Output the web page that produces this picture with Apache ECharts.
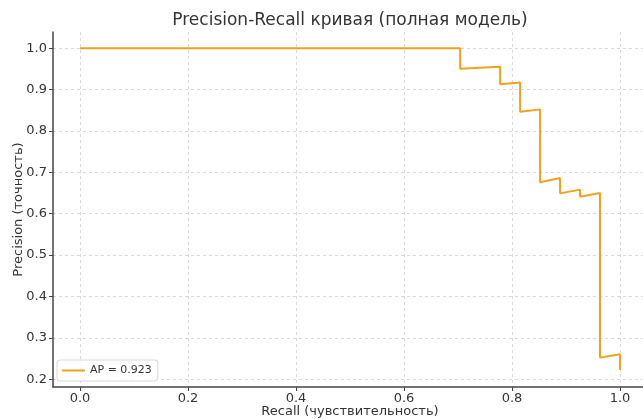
<!DOCTYPE html>
<html>
<head>
<meta charset="utf-8">
<script src="https://cdn.jsdelivr.net/npm/echarts@6/dist/echarts.min.js"></script>
<style>
  html, body { margin: 0; padding: 0; background: #fff; }
  #chart { width: 643px; height: 419px; }
</style>
</head>
<body>
<div id="chart"></div>
<script>
// Precision-Recall curve vertices (recall, precision)
const recall = [0.000, 0.704, 0.704, 0.778, 0.778, 0.815, 0.815, 0.852, 0.852,
                0.889, 0.889, 0.926, 0.926, 0.963, 0.963, 1.000, 1.000];
const precision = [1.000, 1.000, 0.950, 0.955, 0.913, 0.917, 0.846, 0.852, 0.676,
                   0.686, 0.649, 0.658, 0.641, 0.650, 0.252, 0.260, 0.222];
const seriesName = 'AP = 0.923';
const xTicks = [0.0, 0.2, 0.4, 0.6, 0.8, 1.0];
const yTicks = [0.2, 0.3, 0.4, 0.5, 0.6, 0.7, 0.8, 0.9, 1.0];

const FONT = 'DejaVu Sans';
const curve = recall.map((r, i) => [r, precision[i]]);

const axisCommon = {
  axisLine: { show: true, onZero: false, lineStyle: { color: '#444', width: 1.5 } },
  axisTick: { show: true, inside: false, length: 4, lineStyle: { color: '#444', width: 1 } },
  splitLine: { show: true, lineStyle: { color: '#d0d0d0', width: 0.8, type: [3, 3] } },
  axisLabel: { color: '#333', fontFamily: FONT, fontSize: 13 },
  nameTextStyle: { color: '#333', fontFamily: FONT, fontSize: 13 },
  nameMoveOverlap: false
};

const chart = echarts.init(document.getElementById('chart'), null, { renderer: 'canvas' });
chart.setOption({
  animation: false,
  backgroundColor: '#fff',
  title: {
    text: 'Precision-Recall кривая (полная модель)',
    left: 345, textAlign: 'center', top: 7,
    textStyle: { fontFamily: FONT, fontSize: 17, fontWeight: 'normal', color: '#333' }
  },
  grid: { left: 53, top: 32, width: 594, height: 355, containLabel: false, outerBoundsMode: 'none' },
  xAxis: Object.assign({}, axisCommon, {
    type: 'value', min: -0.05, max: 1.05,
    name: 'Recall (чувствительность)', nameLocation: 'middle', nameGap: 18,
    axisTick: Object.assign({}, axisCommon.axisTick, { customValues: xTicks }),
    axisLabel: Object.assign({}, axisCommon.axisLabel, {
      customValues: xTicks, margin: 5, formatter: v => v.toFixed(1)
    }),
    splitLine: Object.assign({}, axisCommon.splitLine, { customValues: xTicks })
  }),
  yAxis: Object.assign({}, axisCommon, {
    type: 'value', min: 0.181, max: 1.039,
    name: 'Precision (точность)', nameLocation: 'middle', nameGap: 28, nameRotate: 90,
    axisTick: Object.assign({}, axisCommon.axisTick, { customValues: yTicks }),
    axisLabel: Object.assign({}, axisCommon.axisLabel, {
      customValues: yTicks, margin: 6, formatter: v => v.toFixed(1)
    }),
    splitLine: Object.assign({}, axisCommon.splitLine, { customValues: yTicks })
  }),
  legend: {
    show: true, left: 57, top: 360, orient: 'vertical',
    data: [{ name: seriesName, icon: 'rect' }],
    itemWidth: 23, itemHeight: 2, itemGap: 0,
    padding: [5, 6, 5, 5],
    borderColor: '#d8d8d8', borderWidth: 1, borderRadius: 3,
    backgroundColor: 'rgba(255,255,255,0.85)',
    textStyle: { fontFamily: FONT, fontSize: 11, color: '#333' }
  },
  series: [{
    name: seriesName, type: 'line', data: curve,
    showSymbol: false, symbol: 'none',
    lineStyle: { color: '#f0a21c', width: 2 },
    itemStyle: { color: '#f0a21c' }
  }]
});
</script>
</body>
</html>
